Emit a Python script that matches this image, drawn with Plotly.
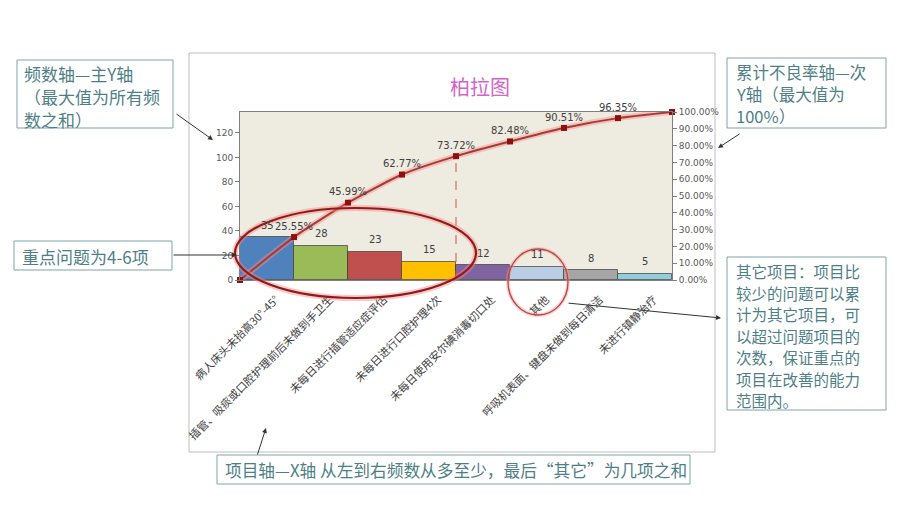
import plotly.graph_objects as go

# ---------------- data ----------------
categories = [
    "病人床头未抬高30°-45°",
    "插管、吸痰或口腔护理前后未做到手卫生",
    "未每日进行插管适应症评估",
    "未每日进行口腔护理4次",
    "未每日使用安尔碘消毒切口处",
    "其他",
    "呼吸机表面、键盘未做到每日清洁",
    "未进行镇静治疗",
]
counts = [35, 28, 23, 15, 12, 11, 8, 5]
bar_colors = ["#4F81BD", "#9BBB59", "#C0504D", "#FFC000",
              "#8064A2", "#B9CDE5", "#A5A5A5", "#92CDDC"]
left_ticks = [0, 20, 40, 60, 80, 100, 120]
title_text = "柏拉图"

note_freq = ["频数轴—主Y轴", "（最大值为所有频", "数之和）"]
note_cum = ["累计不良率轴—次", "Y轴（最大值为", "100%）"]
note_key = ["重点问题为4-6项"]
note_other = ["其它项目：项目比", "较少的问题可以累", "计为其它项目，可", "以超过问题项目的",
              "次数，保证重点的", "项目在改善的能力", "范围内。"]
note_x = ["项目轴—X轴 从左到右频数从多至少，最后“其它”为几项之和"]

# ---------------- derived ----------------
total = sum(counts)
cum = []
s = 0
for c in counts:
    s += c
    cum.append(s / total)
line_x = list(range(len(counts) + 1))
line_y = [0] + cum
line_text = [""] + [f"{v*100:.2f}%" for v in cum[:-1]] + [""]
bar_x = [i + 0.5 for i in range(len(counts))]

# pixel layout helpers
W, H = 920, 518
L, R, T, B = 240, 672, 112, 280


def px(x):
    return (x - L) / (R - L)


def py(y):
    return (B - y) / (B - T)


NUM_FONT = "DejaVu Sans"
CJK = "Noto Sans CJK SC, DejaVu Sans"

fig = go.Figure()

fig.add_trace(go.Bar(
    x=bar_x, y=counts, width=1,
    marker=dict(color=bar_colors, line=dict(color="rgba(60,60,60,0.7)", width=1)),
    showlegend=False, hoverinfo="skip",
))

# glow under cumulative line
fig.add_trace(go.Scatter(
    x=line_x, y=line_y, yaxis="y2", mode="lines",
    line=dict(color="rgba(255,140,140,0.45)", width=6, shape="spline", smoothing=0.6),
    showlegend=False, hoverinfo="skip",
))
fig.add_trace(go.Scatter(
    x=line_x, y=line_y, yaxis="y2", mode="lines+markers+text",
    line=dict(color="#A03C38", width=2, shape="spline", smoothing=0.6),
    marker=dict(symbol="square", size=6, color="#8B1010"),
    text=line_text, textposition="top center",
    textfont=dict(family=NUM_FONT, size=10, color="#404040"),
    showlegend=False, hoverinfo="skip", cliponaxis=False,
))

annotations = []
# bar value labels
for xv, v in zip(bar_x, counts):
    annotations.append(dict(
        x=xv, y=v, xref="x", yref="y", text=str(v), showarrow=False,
        yshift=12, font=dict(family=NUM_FONT, size=10, color="#404040"),
    ))

# title
annotations.append(dict(
    x=px(480), y=py(86), xref="paper", yref="paper", text=title_text,
    xanchor="center", yanchor="middle",
    showarrow=False, font=dict(family=CJK, size=20, color="#D464C6"),
))

BOX_TXT = "#4E7F86"
BOX_BORDER = "#7FA3A8"

shapes = [
    # outer chart frame
    dict(type="rect", xref="paper", yref="paper",
         x0=px(189), x1=px(715), y0=py(53), y1=py(452),
         line=dict(color="#BFBFBF", width=1), layer="below"),
]


def box(lines, x0, y0, x1, y1, tx, ty0, dy, size):
    shapes.append(dict(type="rect", xref="paper", yref="paper",
                       x0=px(x0), x1=px(x1), y0=py(y0), y1=py(y1),
                       line=dict(color=BOX_BORDER, width=1), fillcolor="white",
                       layer="above"))
    for k, ln in enumerate(lines):
        annotations.append(dict(
            x=px(tx), y=py(ty0 + k * dy), xref="paper", yref="paper",
            xanchor="left", yanchor="middle", text=ln, showarrow=False,
            font=dict(family=CJK, size=size, color=BOX_TXT),
        ))


box(note_freq, 17, 60, 173, 128, 22, 74, 22.5, 17)
box(note_cum, 727, 58, 886, 128, 734, 72, 22, 16.5)
box(note_key, 14, 241, 172, 270, 20, 256, 0, 17)
box(note_other, 727, 257, 886, 410, 734, 271, 21.5, 15.5)
box(note_x, 217, 455, 690, 484, 223, 470, 0, 16.7)


def arrow(hx, hy, tx, ty):
    annotations.append(dict(
        x=px(hx), y=py(hy), xref="paper", yref="paper",
        ax=tx - hx, ay=ty - hy, axref="pixel", ayref="pixel",
        text="", showarrow=True, arrowhead=2, arrowsize=1, arrowwidth=1,
        arrowcolor="#333333", standoff=0,
    ))


arrow(213, 140, 175, 113)
arrow(718, 148, 741, 133)
arrow(237, 255, 172, 255)
arrow(721, 318, 567, 303)
arrow(266, 428, 257, 456)

shapes += [
    # dashed drop line at the 4th cumulative point
    dict(type="line", xref="x", yref="y2", x0=4, x1=4, y0=0, y1=cum[3],
         line=dict(color="#D94A4A", width=1, dash="dash")),
    # ellipse glow + ellipse
    dict(type="circle", xref="paper", yref="paper",
         x0=px(235), x1=px(476), y0=py(208), y1=py(298),
         line=dict(color="rgba(255,130,130,0.45)", width=6)),
    dict(type="circle", xref="paper", yref="paper",
         x0=px(235), x1=px(476), y0=py(208), y1=py(298),
         line=dict(color="#8A1C1C", width=2.2)),
    # circle around 其他
    dict(type="circle", xref="paper", yref="paper",
         x0=px(508), x1=px(568), y0=py(249), y1=py(315),
         line=dict(color="rgba(255,150,150,0.45)", width=4)),
    dict(type="circle", xref="paper", yref="paper",
         x0=px(508), x1=px(568), y0=py(249), y1=py(315),
         line=dict(color="#B04848", width=1.3)),
]

fig.update_layout(
    width=W, height=H,
    margin=dict(l=L, r=W - R, t=T, b=H - B, pad=0),
    paper_bgcolor="white", plot_bgcolor="#EEECE1",
    bargap=0, showlegend=False,
    xaxis=dict(
        range=[0, len(counts)], tickmode="array", tickvals=bar_x, ticktext=categories,
        tickangle=-45, tickfont=dict(family=CJK, size=11, color="#404040"),
        ticklabelstandoff=8, ticklabelshift=9,
        showgrid=False, zeroline=False, ticks="",
        showline=True, linecolor="#7F7F7F", linewidth=1, mirror=True,
    ),
    yaxis=dict(
        range=[0, total], tickmode="array", tickvals=left_ticks,
        tickfont=dict(family=NUM_FONT, size=9, color="#595959"),
        showgrid=False, zeroline=False, ticks="outside", ticklen=4,
        tickcolor="#7F7F7F", showline=True, linecolor="#7F7F7F", linewidth=1,
    ),
    yaxis2=dict(
        range=[0, 1], overlaying="y", side="right", tickformat=".2%", dtick=0.1,
        tickfont=dict(family=NUM_FONT, size=9, color="#595959"),
        showgrid=False, zeroline=False, ticks="outside", ticklen=4,
        tickcolor="#7F7F7F", showline=True, linecolor="#7F7F7F", linewidth=1,
    ),
    annotations=annotations,
    shapes=shapes,
)

fig.write_html("out.html")
